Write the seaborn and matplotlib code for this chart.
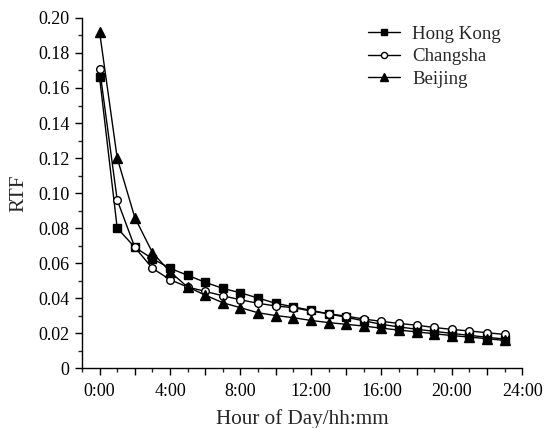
import matplotlib
matplotlib.use("Agg")
import matplotlib.pyplot as plt
from matplotlib.ticker import MultipleLocator, FuncFormatter
import numpy as np
import pandas as pd
import seaborn as sns

hours = list(range(24))
hong_kong = [0.166, 0.080, 0.069, 0.0625, 0.057, 0.053, 0.049, 0.0455, 0.043, 0.040,
             0.037, 0.0350, 0.0330, 0.0310, 0.0290, 0.0270, 0.0250, 0.0235, 0.0222, 0.0210,
             0.0198, 0.0187, 0.0176, 0.0166]
changsha = [0.171, 0.096, 0.069, 0.057, 0.0505, 0.0463, 0.0438, 0.0413, 0.039, 0.037,
            0.0355, 0.0345, 0.0326, 0.0310, 0.0297, 0.0280, 0.0267, 0.0255, 0.0245, 0.0232,
            0.0221, 0.0212, 0.0202, 0.0192]
beijing = [0.192, 0.120, 0.086, 0.066, 0.055, 0.0463, 0.0417, 0.0373, 0.0345, 0.0316,
           0.0300, 0.0288, 0.0272, 0.0260, 0.0250, 0.0240, 0.0228, 0.0217, 0.0207, 0.0196,
           0.0186, 0.0177, 0.0168, 0.0158]

sns.set_style("ticks")
plt.rcParams['font.family'] = ['Liberation Serif', 'DejaVu Serif']

fig = plt.figure(figsize=(5.44, 4.28), dpi=100)
ax = fig.add_axes([0.1507, 0.140, 0.8093, 0.818])

series = [("Hong Kong", hong_kong, "s", "k", 5.5),
          ("Changsha", changsha, "o", "white", 5.5),
          ("Beijing", beijing, "^", "k", 6.5)]
for name, vals, mk, fc, ms in series:
    df = pd.DataFrame({"hour": hours, "rtf": vals})
    sns.lineplot(data=df, x="hour", y="rtf", ax=ax, color="k", lw=1.0,
                 marker=mk, markersize=ms, markerfacecolor=fc,
                 markeredgecolor="k", markeredgewidth=1.0, label=name)

ax.set_xlim(-1, 24)
ax.set_ylim(0, 0.20)
ax.xaxis.set_major_locator(MultipleLocator(2))
ax.xaxis.set_minor_locator(MultipleLocator(1))
ax.xaxis.set_major_formatter(FuncFormatter(
    lambda v, p: f"{int(round(v))}:00" if int(round(v)) % 4 == 0 else ""))
ax.yaxis.set_major_locator(MultipleLocator(0.02))
ax.yaxis.set_minor_locator(MultipleLocator(0.01))
ax.yaxis.set_major_formatter(FuncFormatter(
    lambda v, p: "0" if abs(v) < 1e-9 else f"{v:.2f}"))

ax.tick_params(axis="both", which="major", direction="out", length=5,
               width=1, labelsize=13, colors="k", pad=4)
ax.tick_params(axis="both", which="minor", direction="out", length=3, width=1)
ax.tick_params(axis="x", which="major", pad=6)
for s in ["top", "right"]:
    ax.spines[s].set_visible(False)
for s in ["left", "bottom"]:
    ax.spines[s].set_linewidth(1.0)
    ax.spines[s].set_color("k")

ax.set_xlabel("Hour of Day/hh:mm", fontsize=15.2, labelpad=6)
ax.set_ylabel("RTF", fontsize=15.2, labelpad=7)

leg = ax.legend(loc="upper left", bbox_to_anchor=(0.65, 0.978), frameon=False,
                fontsize=13.6, handlelength=1.7, handletextpad=0.63,
                labelspacing=0.28, borderpad=0, borderaxespad=0, markerscale=0.8)

fig.savefig("out.png", dpi=100)
